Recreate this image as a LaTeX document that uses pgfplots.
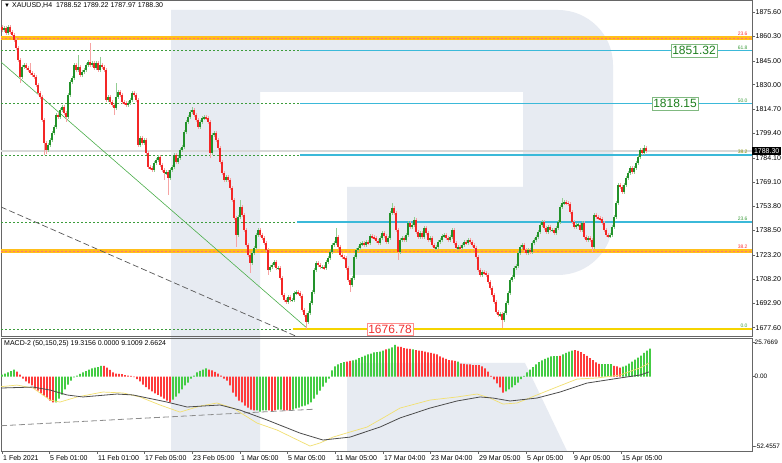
\documentclass[border=0pt]{standalone}
\usepackage{fontspec}
\setmainfont{Liberation Sans}
\usepackage{pgfplots}
\usepackage{pgfplotstable}
\pgfplotsset{compat=1.18}
\definecolor{upbody}{HTML}{22922A}
\definecolor{upwick}{HTML}{93CE93}
\definecolor{dnbody}{HTML}{F42626}
\definecolor{dnwick}{HTML}{F6A4A4}
\definecolor{hgreen}{HTML}{44CC44}
\definecolor{hred}{HTML}{FF3B3B}
\definecolor{fibcyan}{HTML}{3BB9D9}
\definecolor{fiborange}{HTML}{FFBE1A}
\definecolor{fibyellow}{HTML}{F5D400}
\definecolor{fibgreen}{HTML}{3C9C3C}
\definecolor{wm}{HTML}{E7EBF2}
\definecolor{boxgreen}{HTML}{1E7F1E}
\definecolor{boxred}{HTML}{F03030}
\definecolor{macdyellow}{HTML}{F2E070}

\pgfplotstableread{
x o h l c
2 1866.2 1867.4 1863.1 1864.3
4 1864.3 1866.7 1863.1 1865.5
6 1865.5 1866.7 1861.2 1862.4
8 1862.4 1867.4 1861.2 1866.2
10 1866.2 1867.4 1861.8 1863.0
12 1863.0 1864.2 1859.9 1861.1
14 1861.1 1862.3 1856.8 1858.0
16 1858.0 1859.2 1851.8 1853.0
18 1853.0 1854.2 1844.3 1845.5
20 1845.5 1846.7 1831.0 1834.8
22 1834.8 1842.3 1833.6 1841.1
24 1841.1 1843.5 1839.9 1842.3
26 1842.3 1843.5 1839.3 1840.5
28 1840.5 1841.7 1838.0 1839.2
30 1839.2 1843.6 1836.1 1837.3
32 1837.3 1838.5 1834.9 1836.1
34 1836.1 1837.3 1833.6 1834.8
36 1834.8 1836.0 1828.6 1829.8
38 1829.8 1831.0 1823.6 1824.8
40 1824.8 1826.0 1821.1 1822.3
42 1822.3 1823.5 1806.6 1807.8
44 1807.8 1809.0 1785.9 1793.4
46 1793.4 1794.6 1786.5 1789.0
48 1789.0 1793.4 1787.8 1792.2
50 1792.2 1796.5 1791.0 1795.3
52 1795.3 1800.9 1794.1 1799.7
54 1799.7 1804.6 1798.5 1803.4
56 1803.4 1812.2 1802.2 1811.0
58 1811.0 1812.2 1808.5 1809.7
60 1809.7 1815.3 1808.5 1814.1
62 1814.1 1817.2 1812.9 1816.0
64 1816.0 1817.2 1811.0 1812.2
66 1812.2 1813.4 1806.5 1809.7
68 1809.7 1824.7 1808.5 1823.5
70 1823.5 1832.9 1822.3 1831.7
72 1831.7 1835.4 1830.5 1834.2
74 1834.2 1843.5 1833.0 1842.3
76 1842.3 1843.5 1838.0 1839.2
78 1839.2 1848.6 1838.0 1841.1
80 1841.1 1842.3 1834.9 1836.1
82 1836.1 1839.1 1834.9 1837.9
84 1837.9 1840.4 1836.7 1839.2
86 1839.2 1843.5 1838.0 1842.3
88 1842.3 1845.4 1841.1 1844.2
90 1844.2 1856.1 1841.1 1842.3
92 1842.3 1844.8 1841.1 1843.6
94 1843.6 1844.8 1839.3 1840.5
96 1840.5 1844.8 1839.3 1843.6
98 1843.6 1844.8 1838.0 1839.2
100 1839.2 1847.3 1838.0 1842.3
102 1842.3 1843.5 1839.9 1841.1
104 1841.1 1842.3 1838.0 1839.2
106 1839.2 1840.4 1819.2 1820.4
108 1820.4 1823.5 1819.2 1822.3
110 1822.3 1823.5 1817.9 1819.1
112 1819.1 1820.3 1816.0 1817.2
114 1817.2 1818.4 1811.0 1815.3
116 1815.3 1831.0 1814.1 1822.3
118 1822.3 1826.6 1821.1 1825.4
120 1825.4 1826.6 1822.3 1823.5
122 1823.5 1824.7 1817.9 1819.1
124 1819.1 1820.3 1817.3 1818.5
126 1818.5 1819.7 1816.0 1817.2
128 1817.2 1819.7 1816.0 1818.5
130 1818.5 1821.6 1817.3 1820.4
132 1820.4 1826.0 1819.2 1824.8
134 1824.8 1826.0 1822.3 1823.5
136 1823.5 1824.7 1819.2 1820.4
138 1820.4 1821.6 1791.0 1792.2
140 1792.2 1797.7 1791.0 1796.5
142 1796.5 1797.7 1792.2 1793.4
144 1793.4 1796.5 1792.2 1795.3
146 1795.3 1796.5 1785.9 1787.1
148 1787.1 1788.3 1777.2 1778.4
150 1778.4 1779.6 1776.5 1777.7
152 1777.7 1778.9 1775.3 1776.5
154 1776.5 1782.1 1775.3 1780.9
156 1780.9 1784.0 1779.7 1782.8
158 1782.8 1785.8 1781.6 1784.6
160 1784.6 1785.8 1778.4 1779.6
162 1779.6 1780.8 1775.3 1776.5
164 1776.5 1777.7 1770.2 1774.6
166 1774.6 1776.4 1773.4 1775.2
168 1775.2 1776.4 1760.8 1771.5
170 1771.5 1777.7 1770.3 1776.5
172 1776.5 1779.6 1775.3 1778.4
174 1778.4 1787.1 1777.2 1785.9
176 1785.9 1787.1 1780.3 1781.5
178 1781.5 1785.2 1780.3 1784.0
180 1784.0 1790.2 1782.8 1789.0
182 1789.0 1792.1 1787.8 1790.9
184 1790.9 1801.5 1789.7 1800.3
186 1800.3 1807.8 1799.1 1806.6
188 1806.6 1810.9 1805.4 1809.7
190 1809.7 1814.1 1808.5 1812.9
192 1812.9 1816.0 1811.7 1814.1
194 1814.1 1815.3 1809.8 1811.0
196 1811.0 1812.2 1806.6 1807.8
198 1807.8 1809.0 1802.2 1803.4
200 1803.4 1807.8 1802.2 1806.6
202 1806.6 1810.3 1805.4 1809.1
204 1809.1 1810.9 1807.9 1809.7
206 1809.7 1810.9 1807.9 1809.1
208 1809.1 1810.3 1805.4 1806.6
210 1806.6 1807.8 1784.0 1787.1
212 1787.1 1799.6 1785.9 1798.4
214 1798.4 1800.9 1797.2 1799.7
216 1799.7 1800.9 1794.1 1795.3
218 1795.3 1796.5 1789.1 1790.3
220 1790.3 1791.5 1780.3 1781.5
222 1781.5 1782.7 1773.4 1774.6
224 1774.6 1775.8 1769.0 1770.2
226 1770.2 1773.3 1769.0 1772.1
228 1772.1 1773.3 1769.0 1770.2
230 1770.2 1771.4 1764.0 1765.2
232 1765.2 1766.4 1756.5 1757.7
234 1757.7 1758.9 1745.2 1746.4
236 1746.4 1747.6 1728.2 1735.7
238 1735.7 1748.2 1734.5 1747.0
240 1747.0 1757.7 1745.8 1753.3
242 1753.3 1754.5 1747.0 1748.2
244 1748.2 1749.4 1737.6 1738.8
246 1738.8 1740.0 1728.2 1729.4
248 1729.4 1730.6 1722.0 1723.2
250 1723.2 1724.4 1711.9 1718.1
252 1718.1 1725.6 1716.9 1724.4
254 1724.4 1728.7 1723.2 1727.5
256 1727.5 1736.9 1726.3 1735.7
258 1735.7 1740.0 1734.5 1738.8
260 1738.8 1740.0 1734.5 1735.7
262 1735.7 1736.9 1732.6 1733.8
264 1733.8 1735.0 1729.5 1730.7
266 1730.7 1731.9 1725.1 1726.3
268 1726.3 1727.5 1710.6 1713.8
270 1713.8 1716.8 1712.6 1715.6
272 1715.6 1718.1 1714.4 1716.9
274 1716.9 1720.0 1715.7 1718.8
276 1718.8 1720.0 1713.8 1715.0
278 1715.0 1716.2 1713.8 1715.0
280 1715.0 1716.2 1707.5 1708.7
282 1708.7 1709.9 1696.9 1698.1
284 1698.1 1699.3 1693.7 1694.9
286 1694.9 1696.1 1692.5 1693.7
288 1693.7 1698.0 1692.5 1696.8
290 1696.8 1698.0 1693.7 1694.9
292 1694.9 1696.1 1693.7 1694.9
294 1694.9 1700.5 1693.7 1699.3
296 1699.3 1701.2 1698.1 1700.0
298 1700.0 1701.2 1698.1 1699.3
300 1699.3 1700.5 1696.2 1697.4
302 1697.4 1698.6 1687.5 1688.7
304 1688.7 1689.9 1684.3 1685.5
306 1685.5 1686.7 1676.8 1681.1
308 1681.1 1688.0 1679.9 1686.8
310 1686.8 1694.3 1685.6 1693.1
312 1693.1 1701.2 1691.9 1700.0
314 1700.0 1715.0 1698.8 1713.8
316 1713.8 1719.3 1712.6 1718.1
318 1718.1 1719.3 1715.7 1716.9
320 1716.9 1718.1 1714.4 1715.6
322 1715.6 1716.8 1714.4 1715.6
324 1715.6 1716.8 1713.8 1715.0
326 1715.0 1720.0 1713.8 1718.8
328 1718.8 1722.5 1717.6 1721.3
330 1721.3 1726.2 1720.1 1725.0
332 1725.0 1730.6 1723.8 1729.4
334 1729.4 1731.9 1728.2 1730.7
336 1730.7 1740.1 1729.5 1734.4
338 1734.4 1735.6 1727.0 1728.2
340 1728.2 1729.4 1722.0 1723.2
342 1723.2 1724.4 1720.7 1721.9
344 1721.9 1723.1 1720.1 1721.3
346 1721.3 1722.5 1713.8 1715.0
348 1715.0 1716.2 1706.3 1707.5
350 1707.5 1708.7 1700.0 1704.3
352 1704.3 1709.9 1703.1 1708.7
354 1708.7 1723.1 1707.5 1721.9
356 1721.9 1727.5 1720.7 1726.3
358 1726.3 1728.7 1725.1 1727.5
360 1727.5 1731.3 1726.3 1730.1
362 1730.1 1731.9 1728.9 1730.7
364 1730.7 1731.9 1728.2 1729.4
366 1729.4 1732.5 1728.2 1731.3
368 1731.3 1732.5 1729.5 1730.7
370 1730.7 1736.3 1729.5 1735.1
372 1735.1 1736.3 1733.2 1734.4
374 1734.4 1735.6 1732.6 1733.8
376 1733.8 1735.0 1730.7 1731.9
378 1731.9 1733.1 1729.5 1730.7
380 1730.7 1735.0 1729.5 1733.8
382 1733.8 1738.2 1732.6 1737.0
384 1737.0 1738.2 1733.9 1735.1
386 1735.1 1736.3 1730.1 1731.3
388 1731.3 1735.0 1730.1 1733.8
390 1733.8 1750.7 1732.6 1749.5
392 1749.5 1755.8 1748.3 1752.6
394 1752.6 1753.8 1748.3 1749.5
396 1749.5 1750.7 1737.6 1738.8
398 1738.8 1740.0 1720.0 1725.0
400 1725.0 1733.8 1723.8 1732.6
402 1732.6 1735.0 1731.4 1733.8
404 1733.8 1735.0 1731.4 1732.6
406 1732.6 1736.9 1731.4 1735.7
408 1735.7 1744.4 1734.5 1743.2
410 1743.2 1744.4 1739.5 1740.7
412 1740.7 1743.2 1739.5 1742.0
414 1742.0 1747.0 1740.8 1745.1
416 1745.1 1746.3 1736.4 1737.6
418 1737.6 1738.8 1733.2 1734.4
420 1734.4 1738.2 1733.2 1737.0
422 1737.0 1738.2 1733.2 1734.4
424 1734.4 1741.3 1733.2 1740.1
426 1740.1 1741.3 1735.8 1737.0
428 1737.0 1738.2 1731.4 1732.6
430 1732.6 1735.0 1731.4 1733.8
432 1733.8 1735.0 1728.2 1729.4
434 1729.4 1730.6 1726.3 1727.5
436 1727.5 1729.4 1726.3 1728.2
438 1728.2 1732.5 1727.0 1731.3
440 1731.3 1733.8 1730.1 1732.6
442 1732.6 1736.3 1731.4 1735.1
444 1735.1 1736.9 1733.9 1735.7
446 1735.7 1736.9 1732.6 1733.8
448 1733.8 1735.0 1731.4 1732.6
450 1732.6 1735.6 1731.4 1734.4
452 1734.4 1740.0 1733.2 1738.8
454 1738.8 1740.0 1729.5 1730.7
456 1730.7 1731.9 1726.3 1727.5
458 1727.5 1729.4 1726.3 1728.2
460 1728.2 1729.4 1726.3 1727.5
462 1727.5 1730.6 1726.3 1729.4
464 1729.4 1732.5 1728.2 1731.3
466 1731.3 1732.5 1729.5 1730.7
468 1730.7 1733.8 1729.5 1732.6
470 1732.6 1733.8 1730.1 1731.3
472 1731.3 1732.5 1728.2 1729.4
474 1729.4 1730.6 1726.3 1727.5
476 1727.5 1728.7 1720.7 1721.9
478 1721.9 1723.1 1712.6 1713.8
480 1713.8 1715.0 1709.4 1710.6
482 1710.6 1713.7 1709.4 1712.5
484 1712.5 1713.7 1710.7 1711.9
486 1711.9 1713.1 1709.4 1710.6
488 1710.6 1711.8 1705.0 1706.2
490 1706.2 1707.4 1701.3 1702.5
492 1702.5 1703.7 1696.9 1698.1
494 1698.1 1699.3 1692.5 1693.7
496 1693.7 1694.9 1686.2 1687.4
498 1687.4 1688.6 1684.3 1685.5
500 1685.5 1687.4 1684.3 1686.2
502 1686.2 1687.4 1677.5 1682.4
504 1682.4 1688.0 1681.2 1686.8
506 1686.8 1694.3 1685.6 1693.1
508 1693.1 1700.5 1691.9 1699.3
510 1699.3 1708.7 1698.1 1707.5
512 1707.5 1710.6 1706.3 1709.4
514 1709.4 1716.2 1708.2 1715.0
516 1715.0 1717.5 1713.8 1716.3
518 1716.3 1725.6 1715.1 1724.4
520 1724.4 1729.4 1723.2 1728.2
522 1728.2 1730.6 1727.0 1729.4
524 1729.4 1730.6 1725.1 1726.3
526 1726.3 1727.5 1723.2 1724.4
528 1724.4 1727.5 1723.2 1726.3
530 1726.3 1727.5 1723.8 1725.0
532 1725.0 1731.9 1723.8 1730.7
534 1730.7 1733.8 1729.5 1732.6
536 1732.6 1735.6 1731.4 1734.4
538 1734.4 1738.8 1733.2 1737.6
540 1737.6 1743.2 1736.4 1742.0
542 1742.0 1745.1 1740.8 1743.9
544 1743.9 1745.1 1738.9 1740.1
546 1740.1 1741.3 1736.4 1737.6
548 1737.6 1741.9 1736.4 1740.7
550 1740.7 1741.9 1737.6 1738.8
552 1738.8 1740.0 1737.6 1738.9
554 1738.9 1740.1 1735.8 1737.0
556 1737.0 1741.3 1735.8 1740.1
558 1740.1 1745.1 1738.9 1743.9
560 1743.9 1754.5 1742.7 1753.3
562 1753.3 1758.9 1752.1 1755.8
564 1755.8 1757.6 1754.6 1756.4
566 1756.4 1757.6 1754.6 1755.8
568 1755.8 1757.0 1754.0 1755.2
570 1755.2 1756.4 1748.9 1750.1
572 1750.1 1751.3 1742.7 1743.9
574 1743.9 1745.1 1739.5 1740.7
576 1740.7 1743.2 1739.5 1742.0
578 1742.0 1743.2 1740.8 1742.1
580 1742.1 1743.3 1737.6 1738.8
582 1738.8 1744.4 1737.6 1743.2
584 1743.2 1744.4 1733.2 1734.4
586 1734.4 1735.6 1731.4 1732.6
588 1732.6 1735.0 1731.4 1733.8
590 1733.8 1735.0 1731.4 1732.6
592 1732.6 1733.8 1725.0 1728.2
594 1728.2 1749.4 1727.0 1748.2
596 1748.2 1749.4 1745.8 1747.0
598 1747.0 1748.2 1745.2 1746.4
600 1746.4 1747.6 1744.5 1745.7
602 1745.7 1746.9 1742.0 1743.2
604 1743.2 1744.4 1737.6 1738.8
606 1738.8 1740.0 1734.5 1735.7
608 1735.7 1736.9 1733.9 1735.1
610 1735.1 1736.9 1733.9 1735.7
612 1735.7 1741.9 1734.5 1740.7
614 1740.7 1748.2 1739.5 1747.0
616 1747.0 1757.0 1745.8 1755.8
618 1755.8 1768.3 1754.6 1767.1
620 1767.1 1768.3 1764.6 1765.8
622 1765.8 1767.0 1761.5 1762.7
624 1762.7 1768.3 1761.5 1767.1
626 1767.1 1772.7 1765.9 1771.5
628 1771.5 1775.8 1770.3 1774.6
630 1774.6 1778.9 1773.4 1777.7
632 1777.7 1778.9 1774.0 1775.2
634 1775.2 1778.9 1774.0 1777.7
636 1777.7 1782.1 1776.5 1780.9
638 1780.9 1785.8 1779.7 1784.6
640 1784.6 1790.2 1783.4 1789.0
642 1789.0 1790.2 1785.9 1787.1
644 1787.1 1792.2 1785.9 1790.3
646 1790.3 1791.5 1787.1 1788.3
}\candles

\pgfplotstableread{
x v g
2 1.5 1
5 2.2 1
8 3.0 1
11 4.1 1
14 5.2 1
17 3.7 0
20 1.5 0
23 -1.5 0
26 -3.7 0
29 -5.2 0
32 -6.7 0
35 -9.0 0
38 -10.5 0
41 -12.7 0
44 -14.2 0
47 -15.7 0
50 -18.0 0
53 -19.4 0
56 -19.4 1
59 -16.5 1
62 -13.5 1
65 -9.7 1
68 -6.0 1
71 -3.0 1
74 -0.7 1
77 0.7 1
80 1.9 1
83 3.0 1
86 4.1 1
89 5.2 1
92 6.0 1
95 6.7 1
98 7.1 1
101 7.9 1
104 7.9 0
107 6.7 0
110 4.9 0
113 3.0 0
116 2.2 0
119 1.9 0
122 1.7 0
125 1.1 0
128 0.7 0
131 0.4 0
134 -0.4 0
137 -2.0 0
140 -3.7 0
143 -6.0 0
146 -7.9 0
149 -9.7 0
152 -11.2 0
155 -12.7 0
158 -13.8 0
161 -15.0 0
164 -16.5 0
167 -18.0 0
170 -19.4 0
173 -17.2 1
176 -15.0 1
179 -12.7 1
182 -9.7 1
185 -6.7 1
188 -4.5 1
191 -1.5 1
194 0.7 1
197 3.0 1
200 4.3 1
203 5.2 1
206 6.0 1
209 5.2 0
212 4.5 0
215 3.4 0
218 2.2 0
221 0.7 0
224 -1.5 0
227 -3.0 0
230 -6.7 0
233 -12.0 0
236 -15.0 0
239 -18.0 0
242 -19.4 0
245 -21.7 0
248 -23.2 0
251 -24.7 0
254 -25.4 0
257 -25.4 1
260 -26.2 1
263 -25.4 1
266 -25.4 1
269 -25.4 0
272 -26.2 0
275 -25.4 0
278 -24.7 1
281 -24.7 1
284 -25.4 0
287 -25.4 0
290 -25.4 0
293 -24.7 1
296 -23.9 1
299 -23.2 1
302 -22.4 1
305 -21.7 1
308 -20.9 1
311 -19.4 1
314 -16.5 1
317 -13.5 1
320 -10.5 1
323 -7.5 1
326 -4.5 1
329 -1.5 1
332 4.5 1
335 7.5 1
338 9.0 1
341 10.1 1
344 10.8 1
347 11.2 0
350 11.6 0
353 12.0 1
356 12.7 1
359 13.8 1
362 14.6 1
365 15.7 1
368 16.5 1
371 17.2 1
374 18.0 1
377 18.3 1
380 18.7 1
383 19.4 1
386 20.2 0
389 20.9 1
392 21.7 1
395 23.6 1
398 22.4 0
401 22.1 0
404 21.3 0
407 20.9 0
410 20.6 0
413 20.2 1
416 19.8 0
419 19.4 0
422 19.1 0
425 18.7 0
428 18.0 0
431 17.6 0
434 17.2 0
437 16.5 0
440 15.0 0
443 14.2 0
446 13.1 0
449 12.3 0
452 12.0 0
455 11.6 0
458 11.2 1
461 9.7 0
464 9.4 0
467 9.0 0
470 9.0 0
473 8.6 0
476 8.6 0
479 8.5 0
482 7.5 0
485 6.0 0
488 3.7 0
491 0.4 0
494 -2.2 0
497 -5.2 0
500 -8.2 0
503 -12.0 0
506 -11.2 1
509 -9.7 1
512 -8.2 1
515 -6.4 1
518 -4.5 1
521 -1.9 1
524 0.4 1
527 3.0 1
530 5.2 1
533 7.1 1
536 9.0 1
539 10.8 1
542 12.0 1
545 13.1 1
548 14.2 1
551 15.0 1
554 15.3 1
557 15.3 1
560 15.5 0
563 16.5 1
566 17.6 1
569 18.7 1
572 19.4 1
575 19.8 0
578 19.1 0
581 18.3 0
584 16.8 0
587 15.5 0
590 13.8 0
593 12.2 0
596 10.5 0
599 9.4 0
602 9.2 1
605 9.2 1
608 9.2 1
611 9.2 1
614 8.0 0
617 7.5 0
620 6.7 0
623 7.3 1
626 8.2 1
629 9.7 1
632 11.2 1
635 12.7 1
638 14.2 1
641 15.7 1
644 17.6 1
647 19.4 1
650 20.9 1
}\hist

\begin{document}
\begin{tikzpicture}
\useasboundingbox (0pt,0pt) rectangle (782pt,463pt);
\fill[white] (0pt,0pt) rectangle (782pt,463pt);
% watermark
\fill[wm] (171pt,453pt) -- (558pt,453pt) arc[start angle=90,end angle=0,radius=55pt]
  -- (613pt,243pt) arc[start angle=0,end angle=-90,radius=55pt]
  -- (347pt,188pt) -- (347pt,276pt) -- (523pt,276pt) -- (523pt,371pt)
  -- (260pt,371pt) -- (260pt,12pt) -- (171pt,12pt) -- cycle;
\fill[wm] (347pt,100pt) -- (525pt,100pt) -- (567pt,12pt) -- (347pt,12pt) -- cycle;

\begin{axis}[
  at={(1pt,127pt)}, anchor=south west, scale only axis,
  width=751pt, height=336pt,
  xmin=1, xmax=752, ymin=1672.4, ymax=1883.1,
  xtick=\empty,
  ytick pos=right, yticklabel pos=right,
  ytick={1677.6,1692.9,1708.2,1723.2,1738.5,1753.8,1769.1,1784.1,1799.4,1814.7,1830.0,1845.0,1860.3,1875.6},
  yticklabels={1677.60,1692.90,1708.20,1723.20,1738.50,1753.80,1769.10,1784.10,1799.40,1814.70,1830.00,1845.00,1860.30,1875.60},
  tick align=outside, major tick length=3pt,
  tick style={black!60, line width=0.5pt},
  yticklabel style={font=\fontsize{7}{8}\selectfont, anchor=west, inner sep=0pt, xshift=0.5pt},
  axis line style={black!60, line width=0.7pt},
  clip=true,
]
% fib dotted green levels
\addplot[fibgreen, line width=0.6pt, dash pattern=on 2pt off 2pt] coordinates {(1,1851.32) (752,1851.32)};
\addplot[fibgreen, line width=0.6pt, dash pattern=on 2pt off 2pt] coordinates {(1,1818.15) (752,1818.15)};
\addplot[fibgreen, line width=0.6pt, dash pattern=on 2pt off 2pt] coordinates {(1,1785.9) (752,1785.9)};
\addplot[fibgreen, line width=0.6pt, dash pattern=on 2pt off 2pt] coordinates {(1,1743.9) (752,1743.9)};
\addplot[fibgreen, line width=0.6pt, dash pattern=on 2pt off 2pt] coordinates {(1,1676.78) (752,1676.78)};
% current price line
\addplot[black!15, line width=1.4pt] coordinates {(1,1788.3) (752,1788.3)};
% cyan levels
\addplot[fibcyan, line width=1.2pt] coordinates {(300,1851.32) (752,1851.32)};
\addplot[fibcyan, line width=1.2pt] coordinates {(300,1818.15) (752,1818.15)};
\addplot[fibcyan, line width=1.2pt] coordinates {(300,1785.9) (752,1785.9)};
\addplot[fibcyan, line width=1.2pt] coordinates {(297,1743.9) (752,1743.9)};
% yellow 0.0 level
\addplot[fibyellow, line width=1.6pt] coordinates {(293,1676.78) (752,1676.78)};
% orange levels
\addplot[fiborange, line width=3.5pt] coordinates {(1,1859.3) (752,1859.3)};
\addplot[red!55, line width=0.5pt, dash pattern=on 2pt off 2pt] coordinates {(1,1859.3) (752,1859.3)};
\addplot[fiborange, line width=3.5pt] coordinates {(1,1725.7) (752,1725.7)};
\addplot[red!55, line width=0.5pt, dash pattern=on 2pt off 2pt] coordinates {(1,1725.7) (752,1725.7)};
% trend lines
\addplot[green!55!black!70, line width=0.6pt] coordinates {(1,1844.2) (306,1677.9)};
\addplot[black!65, line width=0.7pt, dash pattern=on 6pt off 3pt] coordinates {(1,1753.3) (320,1665.7)};
% candles: wicks
\addplot[draw=none, mark=none, forget plot,
  restrict expr to domain={\thisrow{c}-\thisrow{o}}{0:1000},
  error bars/.cd, y dir=both, y explicit, error mark=none,
  error bar style={line width=1.0pt, draw=upwick, solid}]
  table[x=x, y expr={(\thisrow{h}+\thisrow{l})/2}, y error expr={(\thisrow{h}-\thisrow{l})/2}] {\candles};
\addplot[draw=none, mark=none, forget plot,
  restrict expr to domain={\thisrow{c}-\thisrow{o}}{-1000:-0.001},
  error bars/.cd, y dir=both, y explicit, error mark=none,
  error bar style={line width=1.0pt, draw=dnwick, solid}]
  table[x=x, y expr={(\thisrow{h}+\thisrow{l})/2}, y error expr={(\thisrow{h}-\thisrow{l})/2}] {\candles};
% candles: bodies
\addplot[draw=none, mark=none, forget plot,
  restrict expr to domain={\thisrow{c}-\thisrow{o}}{0:1000},
  error bars/.cd, y dir=both, y explicit, error mark=none,
  error bar style={line width=1.5pt, draw=upbody, solid}]
  table[x=x, y expr={(\thisrow{o}+\thisrow{c})/2}, y error expr={max(abs(\thisrow{c}-\thisrow{o})/2,0.3)}] {\candles};
\addplot[draw=none, mark=none, forget plot,
  restrict expr to domain={\thisrow{c}-\thisrow{o}}{-1000:-0.001},
  error bars/.cd, y dir=both, y explicit, error mark=none,
  error bar style={line width=1.5pt, draw=dnbody, solid}]
  table[x=x, y expr={(\thisrow{o}+\thisrow{c})/2}, y error expr={max(abs(\thisrow{c}-\thisrow{o})/2,0.3)}] {\candles};
% level labels
\begin{scope}[every node/.style={anchor=south east, inner sep=0.3pt, font=\fontsize{5}{5}\selectfont}]
\node[text=red!80] at (axis cs:748,1860.6) {23.6};
\node[text=fibgreen] at (axis cs:748,1851.9) {61.8};
\node[text=fibgreen] at (axis cs:748,1818.7) {50.0};
\node[text=olive!80!green] at (axis cs:748,1786.4) {38.2};
\node[text=fibgreen] at (axis cs:748,1744.4) {23.6};
\node[text=red!80] at (axis cs:748,1727.0) {38.2};
\node[text=fibgreen] at (axis cs:748,1677.4) {0.0};
\end{scope}
\node[draw=green!45!black!50, fill=white, text=boxgreen, font=\fontsize{12}{13}\selectfont, inner xsep=1.5pt, inner ysep=2pt] at (axis cs:694,1851.32) {1851.32};
\node[draw=green!45!black!50, fill=white, text=boxgreen, font=\fontsize{12}{13}\selectfont, inner xsep=1.5pt, inner ysep=2pt] at (axis cs:675,1818.15) {1818.15};
\node[draw=red!45, fill=white, text=boxred, font=\fontsize{12}{13}\selectfont, inner xsep=1.5pt, inner ysep=2pt] at (axis cs:390,1676.78) {1676.78};
\node[anchor=north west, inner sep=0pt, font=\fontsize{7}{8}\selectfont] at (axis cs:4,1881.8) {{\fontsize{6}{6}\selectfont ▼}\ XAUUSD,H4\ \ 1788.52 1789.22 1787.97 1788.30};
\coordinate (pricelbl) at (axis cs:752,1788.3);
\end{axis}
\node[fill=black, text=white, anchor=west, inner xsep=1pt, inner ysep=1.5pt, font=\fontsize{7}{8}\selectfont, minimum width=29pt] at (pricelbl) {1788.30};

\begin{axis}[
  at={(1pt,12pt)}, anchor=south west, scale only axis,
  width=751pt, height=113pt,
  xmin=1, xmax=752, ymin=-55.7, ymax=28.8,
  xtick={2,49,97,144,192,240,287,335,383,430,478,526,573,621},
  xticklabels={1 Feb 2021,5 Feb 01:00,11 Feb 01:00,17 Feb 05:00,23 Feb 05:00,1 Mar 05:00,5 Mar 05:00,11 Mar 05:00,17 Mar 04:00,23 Mar 04:00,29 Mar 05:00,5 Apr 05:00,9 Apr 05:00,15 Apr 05:00},
  xtick pos=bottom,
  xticklabel style={font=\fontsize{7}{8}\selectfont, anchor=north west, inner sep=0pt, xshift=1pt, yshift=-1.5pt},
  ytick={-52.4557,0,25.7669}, yticklabels={-52.4557,0.00,25.7669},
  ytick pos=right, yticklabel pos=right,
  yticklabel style={font=\fontsize{6.4}{7}\selectfont, anchor=west, inner sep=0pt, xshift=-0.5pt},
  tick align=outside, major tick length=3pt,
  tick style={black!60, line width=0.5pt},
  axis line style={black!60, line width=0.7pt},
  clip=true,
]
\addplot[ybar, bar width=1.7pt, bar shift=0pt, fill=hgreen, draw=none,
  restrict expr to domain={\thisrow{g}}{0.5:1.5}] table[x=x, y=v] {\hist};
\addplot[ybar, bar width=1.7pt, bar shift=0pt, fill=hred, draw=none,
  restrict expr to domain={\thisrow{g}}{-0.5:0.5}] table[x=x, y=v] {\hist};
\addplot[black!45, line width=0.8pt, dash pattern=on 6pt off 3pt] coordinates {(1,-36.8) (313,-24.5)};
\addplot[macdyellow, line width=0.7pt] coordinates {
(1,-7.6) (17,-6.4) (33,-8.6) (50,-17.6) (60,-19.1) (77,-15.3) (103,-11.6) (123,-12.3)
(140,-15.3) (160,-21.3) (180,-26.6) (200,-22.1) (217,-19.8) (233,-23.6) (257,-34.8)
(277,-40.0) (310,-52.0) (320,-49.7) (333,-45.3) (350,-41.5) (367,-37.8) (383,-31.0)
(400,-23.6) (430,-17.6) (457,-15.3) (477,-13.1) (490,-16.1) (503,-20.6) (517,-19.8)
(537,-13.8) (557,-7.8) (577,-1.9) (597,-1.1) (620,1.1) (640,6.4) (649,10.1)};
\addplot[black!70, line width=0.8pt] coordinates {
(1,-8.6) (33,-7.9) (50,-10.1) (67,-13.8) (83,-15.3) (117,-13.1) (133,-13.8) (167,-19.1)
(187,-22.8) (220,-21.3) (240,-25.1) (267,-32.5) (300,-42.3) (323,-47.5) (350,-45.3)
(380,-37.8) (400,-31.0) (430,-23.6) (457,-18.3) (480,-15.3) (493,-16.1) (510,-18.3)
(537,-16.1) (560,-11.6) (587,-4.9) (620,-1.1) (640,1.1) (649,3.4)};
\node[anchor=north west, inner sep=0pt, font=\fontsize{7}{8}\selectfont] at (axis cs:4,27.3) {MACD-2 (50,150,25) 19.3156 0.0000 9.1009 2.6624};
\end{axis}
\end{tikzpicture}
\end{document}
